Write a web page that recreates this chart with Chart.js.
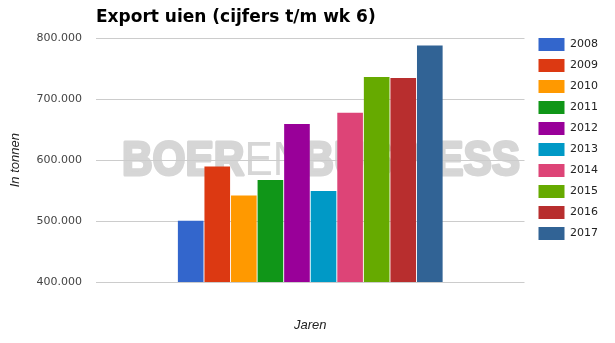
<!DOCTYPE html>
<html>
<head>
<meta charset="utf-8">
<script src="https://cdn.jsdelivr.net/npm/chart.js@4/dist/chart.umd.min.js"></script>
<style>
  html, body { margin: 0; padding: 0; background: #fff; }
  #wrap { width: 615px; height: 343px; position: relative; }
</style>
</head>
<body>
<div id="wrap"><canvas id="c"></canvas></div>
<script>
// ---- data ----
const years = ['2008', '2009', '2010', '2011', '2012', '2013', '2014', '2015', '2016', '2017'];
const exportTonnes = [500500, 589500, 542000, 567500, 659500, 549500, 678000, 736500, 735000, 788000];
const barColors = ['#3366cc', '#dc3912', '#ff9900', '#109618', '#990099', '#0099c6', '#dd4477', '#66aa00', '#b82e2e', '#316395'];
const yTicks = [400000, 500000, 600000, 700000, 800000];
const chartTitle = 'Export uien (cijfers t/m wk 6)';
const yTitle = 'In tonnen';
const xTitle = 'Jaren';

function fmtNL(v) {
  return String(Math.round(v)).replace(/\B(?=(\d{3})+(?!\d))/g, '.');
}

const watermark = {
  id: 'watermark',
  beforeDraw(chart) {
    const ctx = chart.ctx;
    const a = chart.chartArea;
    ctx.save();
    ctx.fillStyle = '#fff';
    ctx.fillRect(0, 0, chart.width, chart.height);
    const size = 48;
    const bold = 'bold ' + size + 'px "Liberation Sans", Arial, sans-serif';
    const norm = size + 'px "Liberation Sans", Arial, sans-serif';
    ctx.font = bold; const w1 = ctx.measureText('BOER').width;
    ctx.font = norm; const w2 = ctx.measureText('EN').width;
    ctx.font = bold; const w3 = ctx.measureText('BUSINESS').width;
    const total = w1 + w2 + w3;
    const targetW = 398;
    const left = a.left + 26;
    const baseline = a.top + 136.5;
    ctx.translate(left, baseline);
    ctx.scale(targetW / total, 1);
    ctx.fillStyle = '#d6d6d6';
    ctx.strokeStyle = '#d6d6d6';
    ctx.lineJoin = 'round';
    ctx.textBaseline = 'alphabetic';
    ctx.textAlign = 'left';
    ctx.lineWidth = 3;
    ctx.font = bold; ctx.fillText('BOER', 0, 0); ctx.strokeText('BOER', 0, 0);
    ctx.font = norm; ctx.fillText('EN', w1, 0);
    ctx.font = bold; ctx.fillText('BUSINESS', w1 + w2, 0); ctx.strokeText('BUSINESS', w1 + w2, 0);
    ctx.restore();
  }
};

const datasets = years.map((y, i) => ({
  label: y,
  data: [exportTonnes[i]],
  backgroundColor: barColors[i],
  borderColor: barColors[i],
  borderWidth: 0,
  categoryPercentage: 0.62,
  barPercentage: 0.965
}));

new Chart(document.getElementById('c'), {
  type: 'bar',
  data: { labels: [''], datasets },
  plugins: [watermark],
  options: {
    responsive: true,
    maintainAspectRatio: false,
    animation: false,
    devicePixelRatio: 1,
    layout: { padding: { left: 0, right: 7, top: 0, bottom: 0 } },
    plugins: {
      tooltip: { enabled: false },
      title: {
        display: true,
        text: chartTitle,
        align: 'start',
        fullSize: false,
        color: '#000',
        font: { family: '"DejaVu Sans", Verdana, sans-serif', size: 17, weight: 'bold' },
        padding: { top: 7.5, bottom: 10.4 }
      },
      legend: {
        display: true,
        position: 'right',
        align: 'start',
        title: { display: true, text: ' ', font: { size: 10 }, padding: { top: 9, bottom: 9 } },
        labels: {
          boxWidth: 26,
          boxHeight: 13,
          padding: 8,
          color: '#222',
          font: { family: '"DejaVu Sans", Verdana, sans-serif', size: 11 }
        }
      }
    },
    scales: {
      x: {
        type: 'category',
        grid: { display: false, drawTicks: false },
        border: { display: false },
        ticks: { display: false },
        title: {
          display: true,
          text: xTitle,
          color: '#222',
          font: { family: '"Liberation Sans", Arial, sans-serif', size: 13, style: 'italic' },
          padding: { top: 0, bottom: 10 }
        },
        afterFit(s) { s.height = 61; }
      },
      y: {
        type: 'linear',
        position: 'left',
        min: yTicks[0],
        max: yTicks[yTicks.length - 1],
        afterBuildTicks(s) { s.ticks = yTicks.map(v => ({ value: v })); },
        grid: { color: '#cccccc', drawTicks: false, lineWidth: 1 },
        border: { display: false },
        ticks: {
          padding: 14,
          color: '#444',
          font: { family: '"DejaVu Sans", Verdana, sans-serif', size: 11 },
          callback: (v) => fmtNL(v)
        },
        title: {
          display: true,
          text: yTitle,
          color: '#222',
          font: { family: '"Liberation Sans", Arial, sans-serif', size: 13, style: 'italic' },
          padding: { top: 7.5, bottom: 0 }
        },
        afterFit(s) { s.width = 96; }
      },
      yR: {
        type: 'linear',
        position: 'right',
        display: true,
        grid: { display: false, drawTicks: false },
        border: { display: false },
        ticks: { display: false },
        afterFit(s) { s.width = 6; }
      }
    }
  }
});
</script>
</body>
</html>
